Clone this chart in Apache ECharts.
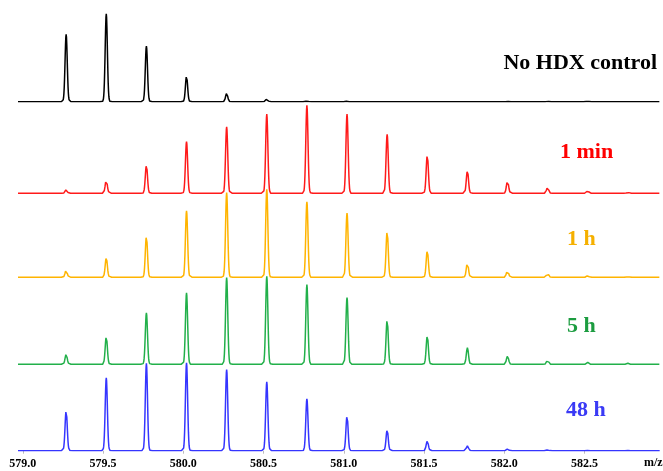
<!DOCTYPE html>
<html>
<head>
<meta charset="utf-8">
<script src="https://cdn.jsdelivr.net/npm/echarts@6/dist/echarts.min.js"></script>
<style>
  html, body { margin: 0; padding: 0; background: #fff; }
  #chart { width: 663px; height: 471px; }
</style>
</head>
<body>
<div id="chart"></div>
<script>
// isotope peak centroids (m/z)
var peakMz = [579.27, 579.52, 579.77, 580.02, 580.27, 580.52, 580.77, 581.02,
              581.27, 581.52, 581.77, 582.02, 582.27, 582.52, 582.77];

// relative intensities (%) of each peak, per exchange time
var ctrlInt  = [76.6, 100, 63.3, 29.1, 9.5, 3.1, 0.8, 0.5, 0, 0, 0, 0.3, 0.4, 0.3, 0];
var min1Int  = [3.9, 15.1, 32.0, 58.6, 75.5, 89.9, 100, 89.9, 67.0, 43.6, 25.6, 14.3, 6.8, 3.0, 1.1];
var h1Int    = [8.1, 22.2, 47.0, 75.6, 96.2, 100, 85.9, 72.9, 52.6, 30.3, 16.7, 8.1, 4.4, 1.8, 0.6];
var h5Int    = [11.3, 31.3, 58.4, 81.1, 98.5, 100, 90.6, 75.9, 51.0, 32.4, 18.8, 9.4, 4.9, 2.3, 1.1];
var h48Int   = [45.8, 82.8, 99.2, 100, 92.3, 78.3, 58.8, 39.7, 23.7, 11.1, 5.4, 1.9, 0.8, 0.3, 0.3];

var traceNames = ['No HDX control', '1 min', '1 h', '5 h', '48 h'];
var tickLabels = [579.0, 579.5, 580.0, 580.5, 581.0, 581.5, 582.0, 582.5];

var colors = ['#000000', '#ff1a1a', '#ffb400', '#22b04a', '#3535ff'];
var textColors = ['#000000', '#ff0000', '#f5b000', '#1c9c40', '#3a3af5'];

var xMin = 578.97, xMax = 582.97;
var gridTops = [13.7, 105.3, 189.3, 276.3, 362.7];
var labelY = [63, 152, 239, 326, 410];
var labelLeft = [null, 560, 567, 567, 566];

// profile spectrum built from the centroid list (narrow gaussian peaks)
function profile(ints) {
    var sigma = 0.0068;
    var pts = [];
    for (var x = xMin; x <= xMax + 1e-9; x += 0.002) {
        var y = 0;
        for (var i = 0; i < peakMz.length; i++) {
            var d = (x - peakMz[i]) / sigma;
            if (Math.abs(d) < 8) y += ints[i] * Math.exp(-0.5 * d * d);
        }
        pts.push([+x.toFixed(3), y]);
    }
    return pts;
}

var allInts = [ctrlInt, min1Int, h1Int, h5Int, h48Int];
var grids = [], xAxes = [], yAxes = [], series = [], texts = [];

for (let i = 0; i < allInts.length; i++) {
    grids.push({ left: 18, right: 3, top: gridTops[i], height: 88 });
    var last = i === allInts.length - 1;
    xAxes.push({
        gridIndex: i,
        type: 'value',
        min: xMin,
        max: xMax,
        show: last,
        axisLine: { show: false },
        splitLine: { show: false },
        axisTick: {
            show: last,
            customValues: tickLabels,
            length: 3,
            lineStyle: { color: '#bbbbbb' }
        },
        axisLabel: {
            show: last,
            customValues: tickLabels,
            margin: 7,
            color: '#000',
            fontFamily: 'Liberation Serif',
            fontWeight: 'bold',
            fontSize: 12,
            formatter: function (v) { return v.toFixed(1); }
        }
    });
    yAxes.push({ gridIndex: i, type: 'value', min: 0, max: 100, show: false });
    series.push({
        name: traceNames[i],
        type: 'line',
        xAxisIndex: i,
        yAxisIndex: i,
        data: profile(allInts[i]),
        showSymbol: false,
        symbol: 'none',
        lineStyle: { color: colors[i], width: 1.5 },
        silent: true,
        z: 10 - i
    });
    var t = {
        type: 'text',
        top: labelY[i] - 11,
        style: {
            text: traceNames[i],
            fill: textColors[i],
            font: 'bold 22px "Liberation Serif"'
        }
    };
    if (i === 0) t.right = 6; else t.left = labelLeft[i];
    texts.push(t);
}

texts.push({
    type: 'text',
    left: 644,
    top: 457,
    style: {
        text: 'm/z',
        fill: '#000',
        font: 'bold 12px "Liberation Serif"'
    }
});

var chart = echarts.init(document.getElementById('chart'));
chart.setOption({
    animation: false,
    grid: grids,
    xAxis: xAxes,
    yAxis: yAxes,
    series: series,
    graphic: texts
});
</script>
</body>
</html>
